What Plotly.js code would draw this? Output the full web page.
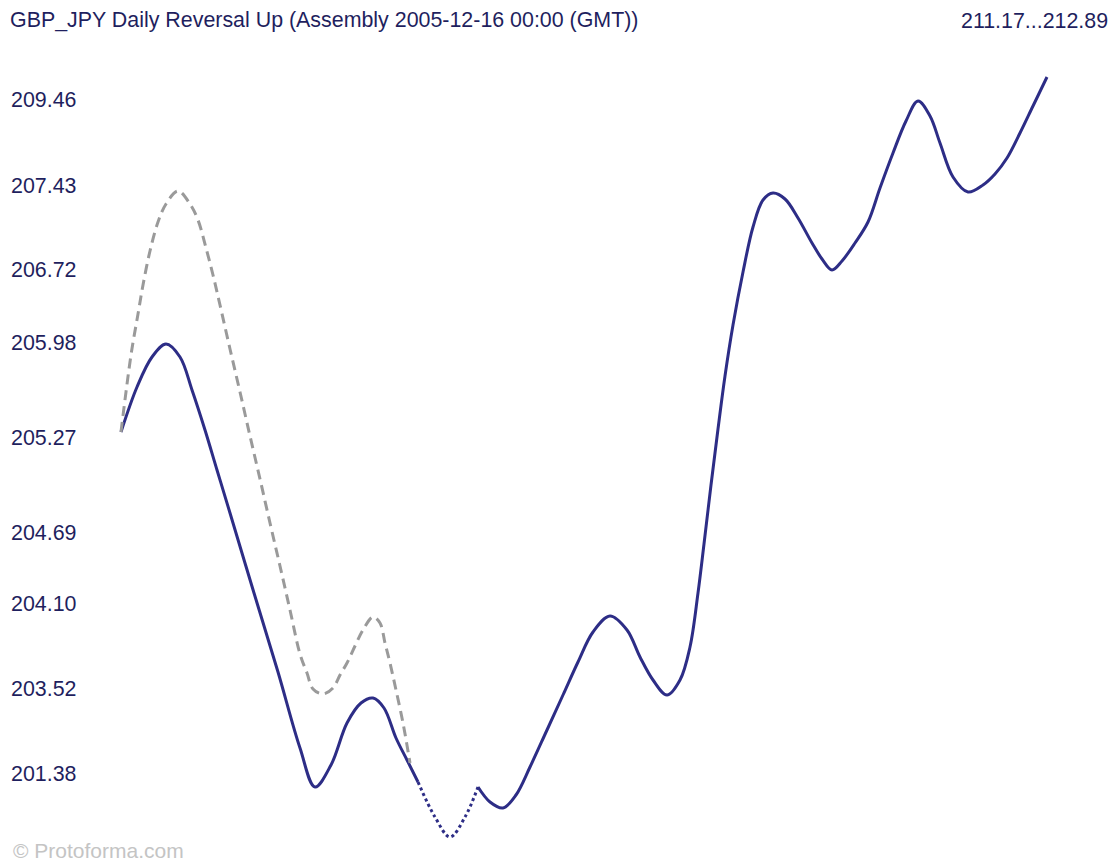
<!DOCTYPE html>
<html>
<head>
<meta charset="utf-8">
<script src="https://cdn.plot.ly/plotly-3.0.1.min.js"></script>
<style>html,body{margin:0;padding:0;background:#fff;}#chart{width:1120px;height:864px;}</style>
</head>
<body>
<div id="chart"></div>
<script>
// Chart title and range label
const chartTitle = "GBP_JPY Daily Reversal Up (Assembly 2005-12-16 00:00 (GMT))";
const rangeLabel = "211.17...212.89";
const watermark = "© Protoforma.com";

// The original's vertical scale is non-linear: each price label sits at a chart level
const tickLabels = ["209.46", "207.43", "206.72", "205.98", "205.27", "204.69", "204.10", "203.52", "201.38"];
const tickLevels = [67.4, 58.8, 50.4, 43.1, 33.6, 24.1, 17.0, 8.5, 0];

// Actual path (solid), first part
const actualAX = [0, 1.6, 3.1, 4.5, 5.9, 7.1, 8.4, 9.6, 10.9, 13.3, 15.7, 17.9, 19.4, 21.0, 22.6, 24.0, 25.2, 26.3, 27.5, 28.6, 29.7];
const actualAY = [34.1, 38.6, 41.6, 42.9, 41.6, 38.3, 34.3, 30.3, 26.0, 18.0, 10.1, 2.5, -1.4, 0.8, 5.0, 7.0, 7.5, 6.5, 3.5, 1.3, -0.9];

// Gap section (dotted)
const gapX = [29.7, 31.4, 32.9, 34.4, 35.7];
const gapY = [-0.9, -4.4, -6.4, -4.4, -1.4];

// Actual path (solid), second part
const actualBX = [35.7, 36.9, 38.2, 39.5, 40.9, 42.6, 44.2, 45.7, 47.2, 48.9, 50.6, 51.9, 53.2, 54.6, 55.9, 56.9, 57.7, 58.3, 59.0, 59.7, 60.4, 61.2, 62.2, 63.2, 64.2, 65.2, 66.4, 67.7, 69.1, 70.1, 71.1, 72.1, 73.4, 74.7, 75.9, 77.2, 78.5, 79.7, 80.9, 81.9, 83.2, 84.7, 86.2, 87.4, 88.6, 89.9, 91.2, 92.6];
const actualBY = [-1.4, -2.9, -3.5, -2.2, 0.6, 4.3, 7.8, 11.1, 14.1, 15.7, 14.3, 11.6, 9.3, 7.8, 9.3, 12.6, 18.0, 22.9, 28.8, 34.4, 39.7, 44.8, 50.1, 54.6, 57.3, 58.0, 57.4, 55.5, 53.0, 51.4, 50.3, 51.2, 53.0, 55.1, 58.5, 62.0, 65.2, 67.2, 65.7, 63.0, 59.6, 58.1, 58.8, 59.9, 61.5, 64.0, 66.7, 69.6];

// Pattern template (gray dashed)
const patternX = [0, 1.0, 1.7, 2.2, 2.9, 3.7, 4.5, 5.7, 6.9, 7.7, 8.5, 9.2, 9.9, 10.9, 11.9, 12.9, 13.9, 14.9, 15.9, 16.9, 17.9, 18.6, 19.2, 20.2, 21.2, 21.9, 22.6, 23.4, 24.2, 25.2, 25.9, 26.4, 26.9, 27.5, 28.2, 28.9];
const patternY = [34.1, 41.8, 45.9, 48.8, 52.2, 55.1, 56.9, 58.2, 56.9, 55.3, 52.5, 49.8, 46.8, 42.4, 38.1, 33.7, 29.4, 25.0, 20.7, 16.3, 11.9, 10.0, 8.4, 7.9, 8.5, 9.8, 11.0, 12.7, 14.3, 15.6, 15.0, 13.0, 11.0, 8.3, 5.0, 1.0];

const navy = "#2d2d86";
const textColor = "#1f1f5e";

const common = {type: "scatter", mode: "lines", hoverinfo: "skip", showlegend: false};
const traces = [
  Object.assign({}, common, {x: actualAX, y: actualAY, line: {color: navy, width: 3, shape: "spline", smoothing: 1, simplify: false}}),
  Object.assign({}, common, {x: gapX, y: gapY, line: {color: navy, width: 3, shape: "spline", smoothing: 1, simplify: false, dash: "3px,3px"}}),
  Object.assign({}, common, {x: actualBX, y: actualBY, line: {color: navy, width: 3, shape: "spline", smoothing: 1, simplify: false}}),
  Object.assign({}, common, {x: patternX, y: patternY, line: {color: "#9a9a9a", width: 3, shape: "spline", smoothing: 1, simplify: false, dash: "10px,6px"}})
];

const font = {family: "Liberation Sans, Arial, sans-serif", size: 21.4, color: textColor};

const layout = {
  width: 1120, height: 864,
  margin: {l: 0, r: 0, t: 0, b: 0, pad: 0},
  paper_bgcolor: "#ffffff", plot_bgcolor: "#ffffff",
  font: font,
  title: {text: chartTitle, font: font, x: 10/1120, xref: "container", xanchor: "left", y: 1 - 20/864, yref: "container", yanchor: "middle"},
  xaxis: {range: [-12.1, 99.9], visible: false, fixedrange: true},
  yaxis: {
    range: [-9.1, 77.3], fixedrange: true,
    tickmode: "array", tickvals: tickLevels, ticktext: tickLabels,
    ticks: "", showgrid: false, zeroline: false, showline: false,
    ticklabelposition: "inside", ticklabelstandoff: 8,
    tickfont: font
  },
  annotations: [
    {text: rangeLabel, xref: "paper", yref: "paper", x: 1 - 10/1120, y: 1 - 21/864, xanchor: "right", yanchor: "middle", showarrow: false, font: font},
    {text: watermark, xref: "paper", yref: "paper", x: 11/1120, y: 1 - 850/864, xanchor: "left", yanchor: "middle", showarrow: false, font: {family: font.family, size: 21, color: "#c4c4c4"}}
  ]
};

Plotly.newPlot("chart", traces, layout, {displayModeBar: false, staticPlot: true});
</script>
</body>
</html>
